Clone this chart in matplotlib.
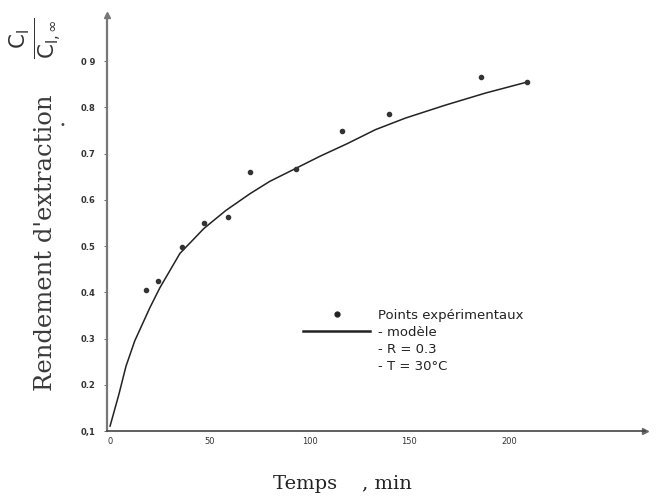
import numpy as np
import matplotlib
matplotlib.use("Agg")
import matplotlib.pyplot as plt
from matplotlib.lines import Line2D

# Data

t_exp = [18, 24, 36, 47, 59, 70, 93, 116, 140, 186, 209]           # min
y_exp = [0.404, 0.425, 0.499, 0.549, 0.562, 0.660, 0.666, 0.749, 0.785, 0.866, 0.855]

t_model = [0, 4.5, 8, 12.4, 20, 25, 35, 47, 58, 70, 80, 93, 105, 119, 133, 148, 168, 188, 209]
y_model = [0.11, 0.18, 0.24, 0.295, 0.367, 0.41, 0.484, 0.538, 0.577,
           0.613, 0.640, 0.668, 0.694, 0.722, 0.752, 0.777, 0.805, 0.831, 0.855]

x_ticks = [0, 50, 100, 150, 200]
x_ticklabels = ["0", "50", "100", "150", "200"]
y_ticks = [0.1, 0.2, 0.3, 0.4, 0.5, 0.6, 0.7, 0.8, 0.9]
y_ticklabels = ["0,1", "0.2", "0.3", "0.4", "0.5", "0.6", "0.7", "0.8", "0 9"]

legend_labels = ["Points expérimentaux", "- modèle", "- R = 0.3", "- T = 30°C"]

# Figure

fig = plt.figure(figsize=(6.56, 4.97), dpi=100)
ax = fig.add_axes([107 / 656, 1 - 431 / 497, (645 - 107) / 656, (431 - 15) / 497])

ax.plot(t_model, y_model, color="#222222", linewidth=1.1, solid_capstyle="round",
        solid_joinstyle="round")
ax.plot(t_exp, y_exp, linestyle="None", marker="o", color="#333333", markersize=3)

ax.set_xlim(-1.5, 268)
ax.set_ylim(0.1, 1.0)

for side in ["top", "right"]:
    ax.spines[side].set_visible(False)
ax.spines["left"].set_color("#777777")
ax.spines["left"].set_linewidth(1.6)
ax.spines["bottom"].set_color("#444444")
ax.spines["bottom"].set_linewidth(1.2)

# arrow heads at the axis ends
ax.plot(1, 0, ">", color="#666666", markersize=5, transform=ax.transAxes, clip_on=False)
ax.plot(0, 1, "^", color="#777777", markersize=5, transform=ax.transAxes, clip_on=False)

ax.set_xticks(x_ticks)
ax.set_xticklabels(x_ticklabels, fontsize=6, color="#333333")
ax.set_yticks(y_ticks)
ax.set_yticklabels(y_ticklabels, fontsize=6, color="#333333", fontweight="bold")
ax.tick_params(axis="x", length=0, pad=4)
ax.tick_params(axis="y", length=2.5, width=0.7, color="#666666", pad=6)

fig.text(342 / 656, 1 - 484 / 497, "Temps    , min", fontsize=14,
         family="DejaVu Serif", color="#222222", ha="center", va="center")
fig.text(46 / 656, 1 - 243 / 497, "Rendement d'extraction", rotation=90,
         fontsize=17.5, family="DejaVu Serif", color="#3a3a3a",
         ha="center", va="center")
fig.text(36 / 656, 1 - 38 / 497, r"$\frac{\mathrm{C_l}}{\mathrm{C_{l,\infty}}}$",
         rotation=90, fontsize=22, color="#333333", ha="center", va="center")
fig.text(62 / 656, 1 - 125 / 497, "•", fontsize=7, color="#444444",
         ha="center", va="center")

handles = [
    Line2D([], [], linestyle="None", marker="o", color="#222222", markersize=3.5),
    Line2D([], [], color="#222222", linewidth=1.8),
    Line2D([], [], linestyle="None"),
    Line2D([], [], linestyle="None"),
]
leg = ax.legend(handles, legend_labels, loc="upper left",
                bbox_to_anchor=(303 / 656, 1 - 309 / 497),
                bbox_transform=fig.transFigure, frameon=False,
                handlelength=5.1, handletextpad=0.6, labelspacing=0.3,
                borderpad=0, borderaxespad=0,
                prop={"size": 9.5, "family": "DejaVu Sans"})
for txt in leg.get_texts():
    txt.set_color("#222222")

fig.savefig("out.png", dpi=100)
